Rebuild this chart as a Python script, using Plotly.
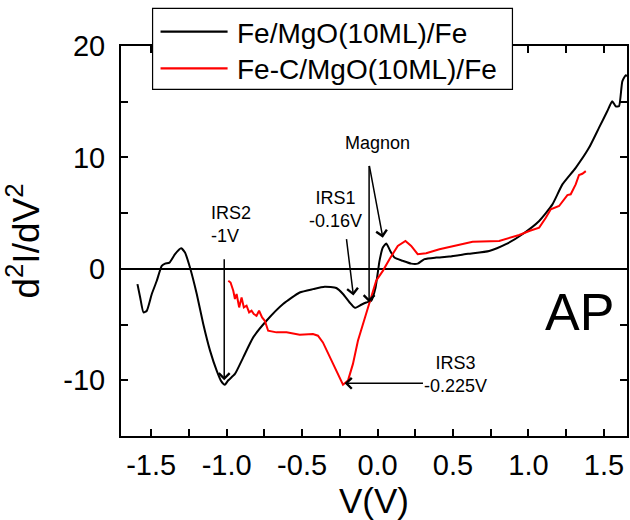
import plotly.graph_objects as go

# ---------------- data ----------------
fe_v = [-1.591, -1.573, -1.551, -1.529, -1.496, -1.463, -1.430, -1.408, -1.379, -1.342,
        -1.302, -1.276, -1.243, -1.198, -1.155, -1.110, -1.066, -1.035, -1.012, -0.989,
        -0.945, -0.890, -0.824, -0.736, -0.626, -0.516, -0.428, -0.350, -0.273, -0.229,
        -0.185, -0.150, -0.108, -0.075, -0.042, -0.013, 0.013, 0.035, 0.058, 0.084,
        0.112, 0.167, 0.223, 0.266, 0.311, 0.388, 0.475, 0.600, 0.740, 0.851,
        0.960, 1.071, 1.159, 1.225, 1.313, 1.401, 1.467, 1.522, 1.555, 1.578,
        1.600, 1.622, 1.645, 1.660]
fe_d2 = [-1.37, -2.57, -3.91, -3.76, -2.26, -1.07, 0.27, 0.47, 0.56, 1.32,
         1.85, 1.46, 0.12, -2.26, -4.95, -7.34, -9.13, -10.1, -10.4, -10.0,
         -9.43, -7.94, -6.15, -4.66, -3.16, -2.12, -1.82, -1.61, -1.72, -2.26,
         -3.02, -3.50, -3.22, -3.02, -2.86, -1.67, 0.72, 1.91, 2.27, 1.61,
         1.01, 0.72, 0.47, 0.47, 0.87, 1.01, 1.10, 1.35, 1.61, 2.21,
         3.11, 4.30, 5.79, 7.58, 9.07, 10.86, 12.65, 14.14, 15.04, 14.59,
         14.59, 16.83, 17.37, 17.28]

fec_v = [-0.989, -0.974, -0.956, -0.945, -0.934, -0.917, -0.901, -0.886, -0.868, -0.851,
         -0.835, -0.820, -0.802, -0.785, -0.765, -0.747, -0.725, -0.670, -0.603, -0.516,
         -0.428, -0.395, -0.362, -0.317, -0.273, -0.229, -0.196, -0.163, -0.130, -0.086,
         -0.053, -0.009, 0.035, 0.079, 0.134, 0.185, 0.223, 0.266, 0.322, 0.410,
         0.630, 0.806, 0.939, 1.005, 1.071, 1.115, 1.148, 1.203, 1.236, 1.258,
         1.280, 1.313, 1.335, 1.357, 1.380]
fec_d2 = [-1.07, -1.23, -1.97, -2.71, -2.26, -3.46, -2.57, -3.46, -3.31, -3.91,
          -3.76, -4.06, -4.21, -3.76, -4.36, -4.66, -5.55, -5.70, -5.70, -5.91,
          -5.85, -6.00, -6.60, -7.94, -9.13, -10.4, -10.03, -8.53, -6.45, -4.36,
          -3.02, -1.07, -0.18, 0.87, 2.06, 2.51, 2.06, 1.32, 1.41, 1.76,
          2.44, 2.51, 3.04, 3.40, 3.70, 4.59, 5.34, 5.64, 6.24, 6.62,
          6.69, 7.58, 8.42, 8.53, 8.77]

series_names = ["Fe/MgO(10ML)/Fe", "Fe-C/MgO(10ML)/Fe"]

x_tick_vals = [-1.5, -1.0, -0.5, 0.0, 0.5, 1.0, 1.5]
x_tick_text = ["-1.5", "-1.0", "-0.5", "0.0", "0.5", "1.0", "1.5"]
y_tick_vals = [-10, 0, 10, 20]
y_tick_text = ["-10", "0", "10", "20"]

# arrows: (head V, head d2, tail V, tail d2)
arrows = [
    (-1.016, -10.0, -1.016, 1.0),     # IRS2
    (-0.160, -2.4, -0.207, 2.8),      # IRS1
    (0.035, 2.8, -0.056, 9.37),       # Magnon peak
    (-0.056, -3.0, -0.056, 9.37),     # Magnon vertical
    (-0.218, -10.27, 0.311, -10.27),  # IRS3
]
labels = [
    ("IRS2<br>-1V", -1.117, 4.0, "left"),
    ("IRS1<br>-0.16V", -0.278, 5.37, "center"),
    ("Magnon", -0.003, 11.31, "center"),
    ("IRS3<br>-0.225V", 0.516, -9.49, "center"),
]

FONT = "Liberation Sans, Arial, sans-serif"
X_RANGE = [-1.70, 1.653]

fig = go.Figure()
fig.add_trace(go.Scatter(x=fe_v, y=fe_d2, mode="lines", name=series_names[0],
                         line=dict(color="black", width=2, shape="spline", smoothing=0.5),
                         showlegend=False))
fig.add_trace(go.Scatter(x=fec_v, y=fec_d2, mode="lines", name=series_names[1],
                         line=dict(color="#ff0000", width=2), showlegend=False))

annotations = []
for hx, hy, tx, ty in arrows:
    annotations.append(dict(x=hx, y=hy, ax=tx, ay=ty, xref="x", yref="y",
                            axref="x", ayref="y", text="", showarrow=True,
                            arrowhead=4, arrowsize=1.4, arrowwidth=1.5,
                            arrowcolor="black", standoff=0, startstandoff=0))
for txt, x, y, al in labels:
    annotations.append(dict(x=x, y=y, xref="x", yref="y", text=txt, showarrow=False,
                            align=al, xanchor=("left" if al == "left" else "center"),
                            yanchor="middle",
                            font=dict(family=FONT, size=18, color="black")))
annotations.append(dict(x=1.335, y=-3.85, xref="x", yref="y", text="AP", showarrow=False,
                        font=dict(family=FONT, size=52, color="black")))

# manual legend (box, line samples, labels): x in axis units, y in paper units
L, R, T, B = 121, 1, 46, 84
W, H = 630 - L - R, 520 - T - B
def vx(xp):
    return X_RANGE[0] + (xp - L) / W * (X_RANGE[1] - X_RANGE[0])
def py(yp):
    return (520 - B - yp) / H

shapes = [dict(type="rect", xref="x", yref="paper", x0=vx(152.7), x1=vx(514),
               y0=py(89.3), y1=py(8.3), fillcolor="white",
               line=dict(color="black", width=1.2), layer="above")]
for i, (col, yy) in enumerate([("black", 31.7), ("#ff0000", 68.3)]):
    shapes.append(dict(type="line", xref="x", yref="paper", x0=vx(160.7), x1=vx(228),
                       y0=py(yy), y1=py(yy), line=dict(color=col, width=2.2), layer="above"))
    annotations.append(dict(x=vx(235), y=py(yy + 1.5), xref="x", yref="paper",
                            text=series_names[i], showarrow=False, xanchor="left",
                            yanchor="middle",
                            font=dict(family=FONT, size=28, color="black")))

axis_common = dict(showline=True, linecolor="black", linewidth=2, mirror="ticks",
                   ticks="inside", ticklen=7, tickwidth=1.5, tickcolor="black",
                   showgrid=False, tickfont=dict(family=FONT, size=29, color="black"))

fig.update_layout(
    width=630, height=520,
    margin=dict(l=L, r=R, t=T, b=B),
    plot_bgcolor="white", paper_bgcolor="white",
    showlegend=False,
    xaxis=dict(range=X_RANGE, tickvals=x_tick_vals, ticktext=x_tick_text,
               zeroline=False, ticklabelstandoff=2,
               minor=dict(dtick=0.25, tick0=0, ticks="inside", ticklen=7, tickwidth=1.5,
                          tickcolor="black"),
               title=dict(text="V(V)", font=dict(family=FONT, size=35, color="black"),
                          standoff=10),
               **axis_common),
    yaxis=dict(range=[-15, 20], tickvals=y_tick_vals, ticktext=y_tick_text,
               zeroline=True, zerolinecolor="black", zerolinewidth=2,
               ticklabelstandoff=8,
               minor=dict(dtick=5, tick0=0, ticks="inside", ticklen=7, tickwidth=1.5,
                          tickcolor="black"),
               title=dict(text="d<sup>2</sup>I/dV<sup>2</sup>",
                          font=dict(family=FONT, size=37, color="black"), standoff=14),
               **axis_common),
    annotations=annotations,
    shapes=shapes,
)

fig.write_html("out.html")
